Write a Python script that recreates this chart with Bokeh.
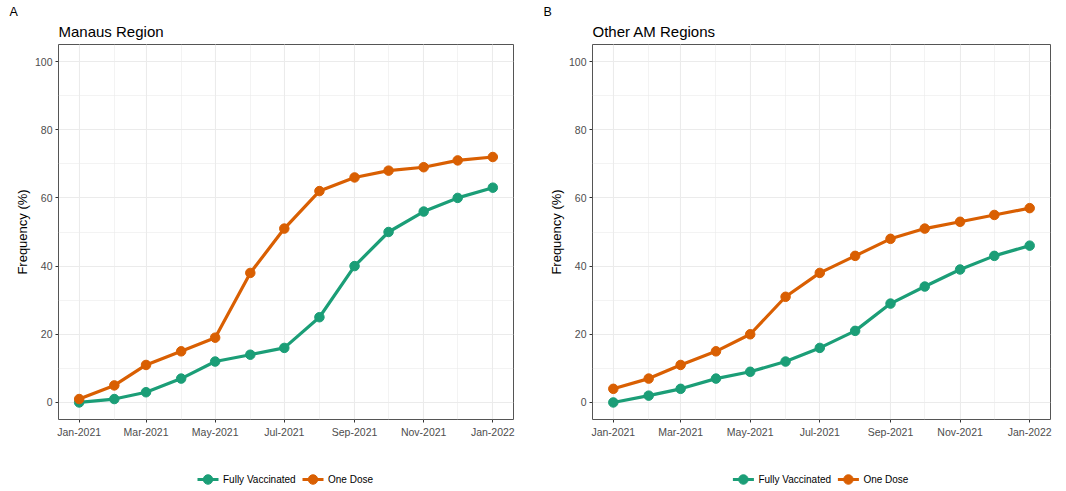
import pandas as pd
from bokeh.plotting import figure
from bokeh.layouts import row, column
from bokeh.models import Range1d, FixedTicker, Title, ColumnDataSource
from bokeh.core.properties import value
from bokeh.embed import file_html
from bokeh.resources import INLINE

# ---- data ----
months = ["2021-01-01", "2021-02-01", "2021-03-01", "2021-04-01", "2021-05-01", "2021-06-01",
          "2021-07-01", "2021-08-01", "2021-09-01", "2021-10-01", "2021-11-01", "2021-12-01",
          "2022-01-01"]
manaus_fully = [0, 1, 3, 7, 12, 14, 16, 25, 40, 50, 56, 60, 63]
manaus_one = [1, 5, 11, 15, 19, 38, 51, 62, 66, 68, 69, 71, 72]
other_fully = [0, 2, 4, 7, 9, 12, 16, 21, 29, 34, 39, 43, 46]
other_one = [4, 7, 11, 15, 20, 31, 38, 43, 48, 51, 53, 55, 57]
series_names = ["Fully Vaccinated", "One Dose"]
x_tick_dates = ["2021-01-01", "2021-03-01", "2021-05-01", "2021-07-01", "2021-09-01",
                "2021-11-01", "2022-01-01"]
x_tick_labels = ["Jan-2021", "Mar-2021", "May-2021", "Jul-2021", "Sep-2021", "Nov-2021", "Jan-2022"]
y_ticks = [0, 20, 40, 60, 80, 100]
y_minor = [10, 30, 50, 70, 90]

GREEN = "#1B9E77"
ORANGE = "#D95F02"
FONT = "Liberation Sans"


def ms(s):
    return int(pd.Timestamp(s).timestamp() * 1000)


DAY = 86400000
x_start = ms(months[0]) - 18.25 * DAY
x_end = ms(months[-1]) + 18.25 * DAY
major_ms = [ms(d) for d in x_tick_dates]
minor_ms = [ms(d) for d in months]

W = 533
H_MAIN = 449
H_LEG = 41


def panel(letter, title, fully, one, bl, br):
    p = figure(width=W, height=H_MAIN, x_axis_type="datetime", output_backend="svg",
               toolbar_location=None, x_range=Range1d(x_start, x_end), y_range=Range1d(-5, 105),
               min_border_left=bl, min_border_right=br, min_border_top=44, min_border_bottom=30,
               background_fill_color="white", border_fill_color="white")
    p.add_layout(Title(text=title, text_font=FONT, text_font_size="15px",
                       text_font_style="normal", text_color="black", align="left",
                       standoff=10), "above")
    p.add_layout(Title(text=letter, text_font=FONT, text_font_size="12.5px",
                       text_font_style="normal", text_color="black", align="left",
                       offset=-49, standoff=-7), "above")

    src = ColumnDataSource(dict(x=pd.to_datetime(months), fully=fully, one=one))
    p.line("x", "fully", source=src, color=GREEN, line_width=3.2)
    p.scatter("x", "fully", source=src, color=GREEN, size=9.5)
    p.line("x", "one", source=src, color=ORANGE, line_width=3.2)
    p.scatter("x", "one", source=src, color=ORANGE, size=9.5)

    p.xaxis.ticker = FixedTicker(ticks=major_ms, minor_ticks=minor_ms)
    p.xaxis.major_label_overrides = dict(zip(major_ms, x_tick_labels))
    p.yaxis.ticker = FixedTicker(ticks=y_ticks, minor_ticks=y_minor)

    for ax in (p.xaxis[0], p.yaxis[0]):
        ax.axis_line_color = None
        ax.major_tick_line_color = "#333333"
        ax.major_tick_in = 0
        ax.major_tick_out = 3
        ax.minor_tick_line_color = None
        ax.major_label_text_font = FONT
        ax.major_label_text_font_size = "10.5px"
        ax.major_label_text_color = "#4D4D4D"
        ax.major_label_standoff = 2
    p.yaxis.axis_label = "Frequency (%)"
    p.yaxis.axis_label_text_font = FONT
    p.yaxis.axis_label_text_font_size = "13px"
    p.yaxis.axis_label_text_font_style = "normal"
    p.yaxis.axis_label_text_color = "black"
    p.yaxis.axis_label_standoff = 2

    for g in (p.xgrid[0], p.ygrid[0]):
        g.grid_line_color = "#EBEBEB"
        g.grid_line_width = 1.1
        g.minor_grid_line_color = "#EBEBEB"
        g.minor_grid_line_width = 0.6

    p.outline_line_color = "#555555"
    p.outline_line_width = 1
    return p


def legend_fig(center):
    q = figure(width=W, height=H_LEG, output_backend="svg", toolbar_location=None,
               x_range=Range1d(0, W), y_range=Range1d(0, H_LEG),
               x_axis_location=None, y_axis_location=None, min_border=0,
               outline_line_color=None, background_fill_color="white",
               border_fill_color="white")
    q.xgrid.visible = False
    q.ygrid.visible = False
    yy = 11
    g0 = [center - 88.5, center + 16.5]
    src = ColumnDataSource(dict(
        x0=g0, x1=[g + 21 for g in g0], xm=[g + 10.5 for g in g0], y=[yy, yy],
        xt=[g + 25.5 for g in g0], name=series_names, color=[GREEN, ORANGE]))
    q.segment("x0", "y", "x1", "y", source=src, line_color="color", line_width=3.2)
    q.scatter("xm", "y", source=src, color="color", size=9.5)
    q.text("xt", "y", text="name", source=src, text_font=value(FONT),
           text_font_size=value("10px"), text_baseline="middle", text_color="black")
    return q


pa = panel("A", "Manaus Region", manaus_fully, manaus_one, 58, 20)
pb = panel("B", "Other AM Regions", other_fully, other_one, 59, 16)
la = legend_fig(285.5)
lb = legend_fig(287.9)

layout = column(row(pa, pb), row(la, lb))
open("out.html", "w").write(file_html(layout, INLINE))
